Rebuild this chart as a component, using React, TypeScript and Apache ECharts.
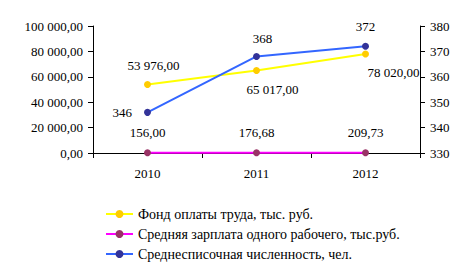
import React, { useEffect, useRef } from "react";
import * as echarts from "echarts";

const years = ["2010", "2011", "2012"];
const fund = [53976, 65017, 78020];
const salary = [156, 176.68, 209.73];
const headcount = [346, 368, 372];
const seriesNames = [
  "Фонд оплаты труда, тыс. руб.",
  "Средняя зарплата одного рабочего, тыс.руб.",
  "Среднесписочная численность, чел.",
];

const fmt = (v: number) => {
  const parts = v.toFixed(2).split(".");
  const int = parts[0].replace(/\B(?=(\d{3})+(?!\d))/g, " ");
  return int + "," + parts[1];
};

const FONT = "'Liberation Serif', 'DejaVu Serif', serif";

export default function App() {
  const ref = useRef<HTMLDivElement>(null);
  useEffect(() => {
    const chart = echarts.init(ref.current!, null, { renderer: "svg" });
    const txt = { fontFamily: FONT, fontSize: 13, color: "#000" };
    const fundOffsets = [[6, -4], [16, 4], [28, 4]];
    const fundPos = ["top", "bottom", "bottom"];
    const headPos = ["left", "top", "top"];
    const headOffsets = [[-4, 0], [6, 0], [0, -2]];
    chart.setOption({
      animation: false,
      textStyle: { fontFamily: FONT },
      grid: { left: 93, right: 48, top: 26, bottom: 116 },
      xAxis: {
        type: "category",
        data: years,
        boundaryGap: true,
        axisLine: { lineStyle: { color: "#000" } },
        axisTick: { show: true, length: 5, lineStyle: { color: "#000" } },
        axisLabel: { ...txt, margin: 14 },
      },
      yAxis: [
        {
          type: "value",
          min: 0,
          max: 100000,
          interval: 20000,
          axisLine: { show: true, lineStyle: { color: "#000" } },
          axisTick: { show: true, length: 5, lineStyle: { color: "#000" } },
          splitLine: { show: false },
          axisLabel: { ...txt, margin: 10, formatter: (v: number) => fmt(v) },
        },
        {
          type: "value",
          min: 330,
          max: 380,
          interval: 10,
          position: "right",
          axisLine: { show: true, lineStyle: { color: "#000" } },
          axisTick: { show: true, length: 5, inside: false, lineStyle: { color: "#000" } },
          splitLine: { show: false },
          axisLabel: { ...txt, margin: 10 },
        },
      ],
      legend: {
        orient: "vertical",
        left: 100,
        top: 202,
        itemWidth: 27,
        itemHeight: 10,
        itemGap: 6,
        textStyle: { ...txt, fontSize: 14 },
        data: seriesNames,
      },
      series: [
        {
          name: seriesNames[0],
          type: "line",
          yAxisIndex: 0,
          symbol: "circle",
          symbolSize: 7,
          lineStyle: { color: "#FFFF00", width: 2 },
          itemStyle: { color: "#FFCC00" },
          data: fund.map((v, i) => ({
            value: v,
            label: {
              show: true,
              position: fundPos[i],
              offset: fundOffsets[i],
              ...txt,
              formatter: () => fmt(v),
            },
          })),
        },
        {
          name: seriesNames[1],
          type: "line",
          yAxisIndex: 0,
          symbol: "circle",
          symbolSize: 7,
          lineStyle: { color: "#FF00FF", width: 2 },
          itemStyle: { color: "#993366" },
          label: { show: true, position: "top", distance: 10, ...txt, formatter: (p: any) => fmt(p.value) },
          data: salary,
        },
        {
          name: seriesNames[2],
          type: "line",
          yAxisIndex: 1,
          symbol: "circle",
          symbolSize: 7,
          lineStyle: { color: "#3366FF", width: 2 },
          itemStyle: { color: "#333399" },
          data: headcount.map((v, i) => ({
            value: v,
            label: {
              show: true,
              position: headPos[i],
              offset: headOffsets[i],
              distance: 8,
              ...txt,
              formatter: () => String(v),
            },
          })),
        },
      ],
    });
    return () => chart.dispose();
  }, []);
  return <div ref={ref} style={{ width: 468, height: 269, position: "absolute", left: 0, top: 0 }} />;
}
